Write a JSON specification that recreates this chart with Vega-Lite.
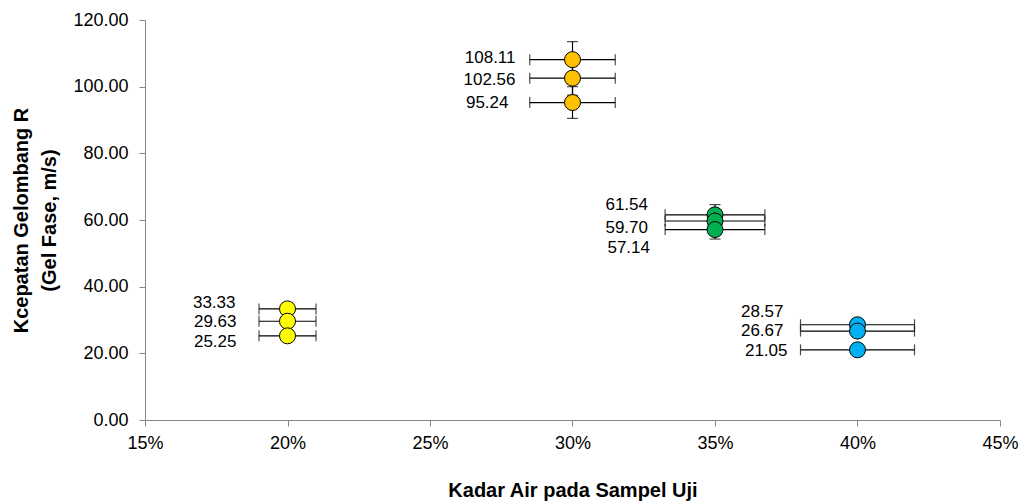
{
  "$schema": "https://vega.github.io/schema/vega-lite/v6.json",
  "autosize": "none",
  "width": 855,
  "height": 400,
  "padding": {"left": 145, "top": 20, "right": 21, "bottom": 83},
  "background": "white",
  "config": {
    "view": {"stroke": null},
    "font": "Liberation Sans",
    "axis": {
      "grid": false,
      "domainColor": "#868686",
      "tickColor": "#868686",
      "tickSize": 6,
      "labelFont": "Liberation Sans",
      "labelFontSize": 18,
      "labelColor": "#000000",
      "titleFont": "Liberation Sans",
      "titleFontSize": 20,
      "titleFontWeight": "bold",
      "titleColor": "#000000"
    }
  },
  "data": {
    "values": [
      {"series": "A", "x": 0.2, "v": 33.33, "label": "33.33", "xlo": 0.19, "xhi": 0.21, "ylo": 31.66, "yhi": 35.0},
      {"series": "A", "x": 0.2, "v": 29.63, "label": "29.63", "xlo": 0.19, "xhi": 0.21, "ylo": 28.15, "yhi": 31.11},
      {"series": "A", "x": 0.2, "v": 25.25, "label": "25.25", "xlo": 0.19, "xhi": 0.21, "ylo": 23.99, "yhi": 26.51},
      {"series": "B", "x": 0.3, "v": 108.11, "label": "108.11", "xlo": 0.285, "xhi": 0.315, "ylo": 102.7, "yhi": 113.52},
      {"series": "B", "x": 0.3, "v": 102.56, "label": "102.56", "xlo": 0.285, "xhi": 0.315, "ylo": 97.43, "yhi": 107.69},
      {"series": "B", "x": 0.3, "v": 95.24, "label": "95.24", "xlo": 0.285, "xhi": 0.315, "ylo": 90.48, "yhi": 100.0},
      {"series": "C", "x": 0.35, "v": 61.54, "label": "61.54", "xlo": 0.3325, "xhi": 0.3675, "ylo": 58.46, "yhi": 64.62},
      {"series": "C", "x": 0.35, "v": 59.70, "label": "59.70", "xlo": 0.3325, "xhi": 0.3675, "ylo": 56.72, "yhi": 62.69},
      {"series": "C", "x": 0.35, "v": 57.14, "label": "57.14", "xlo": 0.3325, "xhi": 0.3675, "ylo": 54.28, "yhi": 60.0},
      {"series": "D", "x": 0.4, "v": 28.57, "label": "28.57", "xlo": 0.38, "xhi": 0.42, "ylo": 27.14, "yhi": 30.0},
      {"series": "D", "x": 0.4, "v": 26.67, "label": "26.67", "xlo": 0.38, "xhi": 0.42, "ylo": 25.34, "yhi": 28.0},
      {"series": "D", "x": 0.4, "v": 21.05, "label": "21.05", "xlo": 0.38, "xhi": 0.42, "ylo": 20.0, "yhi": 22.1}
    ]
  },
  "encoding": {
    "x": {"field": "x", "type": "quantitative", "title": "Kadar Air pada Sampel Uji",
      "scale": {"domain": [0.15, 0.45], "nice": false, "zero": false},
      "axis": {"format": ".0%", "values": [0.15, 0.2, 0.25, 0.3, 0.35, 0.4, 0.45], "labelPadding": 8, "titlePadding": 28, "labelFlush": false}},
    "y": {"field": "v", "type": "quantitative", "title": ["Kcepatan Gelombang R", "(Gel Fase, m/s)"],
      "scale": {"domain": [0, 120], "nice": false},
      "axis": {"format": ".2f", "values": [0, 20, 40, 60, 80, 100, 120], "labelPadding": 11, "titlePadding": 13, "titleLineHeight": 28}}
  },
  "layer": [
    {"mark": {"type": "rule", "color": "#000000", "strokeWidth": 1.2},
     "encoding": {"x": {"field": "xlo", "type": "quantitative", "title": "Kadar Air pada Sampel Uji"}, "x2": {"field": "xhi"}}},
    {"mark": {"type": "rule", "color": "#000000", "strokeWidth": 1.2},
     "encoding": {"y": {"field": "ylo", "type": "quantitative", "title": ["Kcepatan Gelombang R", "(Gel Fase, m/s)"]}, "y2": {"field": "yhi"}}},
    {"mark": {"type": "tick", "orient": "vertical", "color": "#000000", "size": 11, "thickness": 1.2},
     "encoding": {"x": {"field": "xlo", "type": "quantitative", "title": "Kadar Air pada Sampel Uji"}}},
    {"mark": {"type": "tick", "orient": "vertical", "color": "#000000", "size": 11, "thickness": 1.2},
     "encoding": {"x": {"field": "xhi", "type": "quantitative", "title": "Kadar Air pada Sampel Uji"}}},
    {"mark": {"type": "tick", "orient": "horizontal", "color": "#000000", "size": 11, "thickness": 1.2},
     "encoding": {"y": {"field": "ylo", "type": "quantitative", "title": ["Kcepatan Gelombang R", "(Gel Fase, m/s)"]}}},
    {"mark": {"type": "tick", "orient": "horizontal", "color": "#000000", "size": 11, "thickness": 1.2},
     "encoding": {"y": {"field": "yhi", "type": "quantitative", "title": ["Kcepatan Gelombang R", "(Gel Fase, m/s)"]}}},
    {"mark": {"type": "point", "shape": "circle", "filled": true, "size": 256, "opacity": 1, "stroke": "#000000", "strokeWidth": 1},
     "encoding": {"color": {"field": "series", "type": "nominal", "legend": null,
       "scale": {"domain": ["A", "B", "C", "D"], "range": ["#FFFF00", "#FFC000", "#00B050", "#00B0F0"]}}}},
    {"transform": [{"filter": "datum.label == '33.33'"}], "mark": {"type": "text", "align": "right", "baseline": "middle", "fontSize": 17, "color": "#000000", "dx": -52, "dy": -6}, "encoding": {"text": {"field": "label"}}},
    {"transform": [{"filter": "datum.label == '29.63'"}], "mark": {"type": "text", "align": "right", "baseline": "middle", "fontSize": 17, "color": "#000000", "dx": -51, "dy": 1}, "encoding": {"text": {"field": "label"}}},
    {"transform": [{"filter": "datum.label == '25.25'"}], "mark": {"type": "text", "align": "right", "baseline": "middle", "fontSize": 17, "color": "#000000", "dx": -51, "dy": 6}, "encoding": {"text": {"field": "label"}}},
    {"transform": [{"filter": "datum.label == '108.11'"}], "mark": {"type": "text", "align": "right", "baseline": "middle", "fontSize": 17, "color": "#000000", "dx": -57, "dy": -2}, "encoding": {"text": {"field": "label"}}},
    {"transform": [{"filter": "datum.label == '102.56'"}], "mark": {"type": "text", "align": "right", "baseline": "middle", "fontSize": 17, "color": "#000000", "dx": -57, "dy": 2}, "encoding": {"text": {"field": "label"}}},
    {"transform": [{"filter": "datum.label == '95.24'"}], "mark": {"type": "text", "align": "right", "baseline": "middle", "fontSize": 17, "color": "#000000", "dx": -64, "dy": 0}, "encoding": {"text": {"field": "label"}}},
    {"transform": [{"filter": "datum.label == '61.54'"}], "mark": {"type": "text", "align": "right", "baseline": "middle", "fontSize": 17, "color": "#000000", "dx": -67, "dy": -10}, "encoding": {"text": {"field": "label"}}},
    {"transform": [{"filter": "datum.label == '59.70'"}], "mark": {"type": "text", "align": "right", "baseline": "middle", "fontSize": 17, "color": "#000000", "dx": -67, "dy": 7}, "encoding": {"text": {"field": "label"}}},
    {"transform": [{"filter": "datum.label == '57.14'"}], "mark": {"type": "text", "align": "right", "baseline": "middle", "fontSize": 17, "color": "#000000", "dx": -65, "dy": 18}, "encoding": {"text": {"field": "label"}}},
    {"transform": [{"filter": "datum.label == '28.57'"}], "mark": {"type": "text", "align": "right", "baseline": "middle", "fontSize": 17, "color": "#000000", "dx": -74, "dy": -13}, "encoding": {"text": {"field": "label"}}},
    {"transform": [{"filter": "datum.label == '26.67'"}], "mark": {"type": "text", "align": "right", "baseline": "middle", "fontSize": 17, "color": "#000000", "dx": -74, "dy": 0}, "encoding": {"text": {"field": "label"}}},
    {"transform": [{"filter": "datum.label == '21.05'"}], "mark": {"type": "text", "align": "right", "baseline": "middle", "fontSize": 17, "color": "#000000", "dx": -70, "dy": 1}, "encoding": {"text": {"field": "label"}}}
  ]
}
